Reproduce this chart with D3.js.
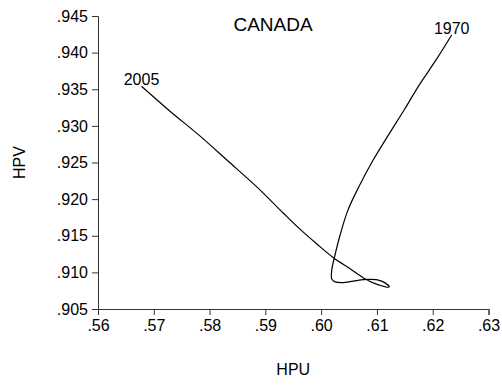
<!DOCTYPE html>
<html>
<head>
<meta charset="utf-8">
<script src="https://cdn.jsdelivr.net/npm/d3@7"></script>
<style>
  html, body { margin: 0; padding: 0; background: #fff; }
  svg { display: block; font-family: Arial, "Liberation Sans", sans-serif; }
</style>
</head>
<body>
<svg id="chart" width="502" height="385"></svg>
<script>
// HP-filtered trajectory of HPU vs HPV, Canada, 1970 to 2005 (time order)
const hpu = [
  0.6234, 0.6206, 0.6176, 0.6149, 0.6121, 0.6093, 0.6069, 0.6048, 0.6034, 0.6024,
  0.6019, 0.6019, 0.6025, 0.6040, 0.6075, 0.6099, 0.6114, 0.6122,
  0.6099, 0.6079, 0.6052, 0.6022, 0.5992, 0.5962, 0.5932, 0.5887, 0.5833, 0.5780,
  0.5729, 0.5678
];
const hpv = [
  0.9424, 0.9390, 0.9356, 0.9322, 0.9288, 0.9253, 0.9219, 0.9185, 0.9151, 0.9121,
  0.9103, 0.9091, 0.9087, 0.9086, 0.9090, 0.9090, 0.9086, 0.9080,
  0.9084, 0.9091, 0.9105, 0.9120, 0.9139, 0.9159, 0.9181, 0.9215, 0.9252, 0.9288,
  0.9320, 0.9354
];
const endLabels = ["1970", "2005"];

const xTicks = [0.56, 0.57, 0.58, 0.59, 0.60, 0.61, 0.62, 0.63];
const yTicks = [0.905, 0.910, 0.915, 0.920, 0.925, 0.930, 0.935, 0.940, 0.945];

const svg = d3.select("#chart");
const plot = { left: 98, right: 488.5, top: 16, bottom: 309 };

const x = d3.scaleLinear().domain([0.56, 0.63]).range([plot.left, plot.right]);
const y = d3.scaleLinear().domain([0.905, 0.945]).range([plot.bottom, plot.top]);

const dropZero = f => d => f(d).replace(/^0\./, ".");

const xAxis = svg.append("g")
  .attr("transform", `translate(0,${plot.bottom})`)
  .call(d3.axisBottom(x).tickValues(xTicks).tickFormat(dropZero(d3.format(".2f")))
    .tickSize(6).tickPadding(5));

const yAxis = svg.append("g")
  .attr("transform", `translate(${plot.left},0)`)
  .call(d3.axisLeft(y).tickValues(yTicks).tickFormat(dropZero(d3.format(".3f")))
    .tickSize(6).tickPadding(4));

[xAxis, yAxis].forEach(g => {
  g.attr("font-family", "Arial, 'Liberation Sans', sans-serif").attr("font-size", 16);
  g.selectAll("path, line").attr("stroke", "#333").attr("stroke-width", 1);
  g.selectAll("text").attr("fill", "#000");
});

// trajectory
const pts = hpu.map((u, i) => [u, hpv[i]]);
const line = d3.line()
  .x(d => x(d[0]))
  .y(d => y(d[1]))
  .curve(d3.curveCatmullRom.alpha(0.5));

svg.append("path")
  .datum(pts)
  .attr("d", line)
  .attr("fill", "none")
  .attr("stroke", "#000")
  .attr("stroke-width", 1.2);

// start / end year labels
const ends = [pts[0], pts[pts.length - 1]];
svg.selectAll("text.year")
  .data(ends)
  .join("text")
  .attr("class", "year")
  .attr("x", d => x(d[0]))
  .attr("y", d => y(d[1]) - 1)
  .attr("text-anchor", "middle")
  .attr("font-size", 16)
  .attr("fill", "#000")
  .text((d, i) => endLabels[i]);

// title and axis titles
svg.append("text")
  .attr("x", 273).attr("y", 31)
  .attr("text-anchor", "middle")
  .attr("font-size", 19)
  .text("CANADA");

svg.append("text")
  .attr("x", (plot.left + plot.right) / 2).attr("y", 375)
  .attr("text-anchor", "middle")
  .attr("font-size", 16)
  .text("HPU");

svg.append("text")
  .attr("transform", `translate(25,${(plot.top + plot.bottom) / 2}) rotate(-90)`)
  .attr("text-anchor", "middle")
  .attr("font-size", 16)
  .text("HPV");
</script>
</body>
</html>
